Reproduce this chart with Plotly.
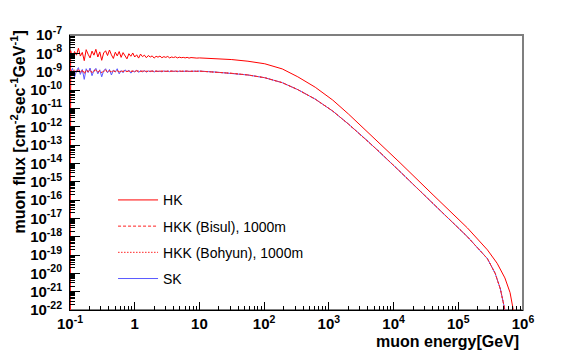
import plotly.graph_objects as go

# log10(energy/GeV) of the noisy low-energy bins
loge_low = [-1.0, -0.99, -0.96, -0.93, -0.90, -0.87, -0.84, -0.81, -0.78, -0.75, -0.72,
            -0.69, -0.66, -0.63, -0.60, -0.57, -0.54, -0.51, -0.48, -0.45, -0.42,
            -0.39, -0.36, -0.33, -0.30, -0.27, -0.24, -0.21, -0.18, -0.15, -0.12,
            -0.09, -0.06, -0.03, 0.00, 0.03, 0.06, 0.09, 0.12, 0.15, 0.18,
            0.21, 0.24, 0.27, 0.30, 0.33, 0.36, 0.39, 0.42, 0.45, 0.48,
            0.51, 0.54, 0.57, 0.60, 0.63, 0.66, 0.69, 0.72, 0.75, 0.78,
            0.81, 0.84, 0.87, 0.90, 0.93, 0.96]

# log10(flux) in the noisy bins (first bin is empty -> -30)
hk_low = [-30, -7.85, -8.30, -7.90, -8.10, -7.72, -8.15, -7.95, -8.40, -7.80, -8.05,
          -8.25, -7.88, -8.10, -7.78, -8.20, -7.92, -8.38, -7.98, -7.86, -8.12,
          -7.82, -8.08, -8.28, -7.94, -8.14, -7.90, -8.22, -7.96, -8.12, -8.30,
          -8.02, -8.16, -7.98, -8.20, -8.08, -8.26, -8.04, -8.18, -8.10, -8.24,
          -8.12, -8.20, -8.14, -8.26, -8.16, -8.21, -8.15, -8.24, -8.18, -8.22,
          -8.17, -8.25, -8.20, -8.23, -8.19, -8.25, -8.21, -8.24, -8.22, -8.25,
          -8.22, -8.26, -8.23, -8.25, -8.24, -8.26]
sk_low = [-8.90, -9.00, -8.82, -9.30, -8.95, -8.78, -9.15, -8.88, -9.42, -8.84, -9.05,
          -8.80, -9.22, -8.94, -8.82, -9.12, -8.90, -9.28, -8.95, -8.84, -9.06,
          -8.88, -9.18, -8.92, -9.02, -8.84, -9.12, -8.94, -9.06, -8.90, -9.00,
          -8.92, -9.08, -8.96, -9.02, -8.92, -9.04, -8.95, -9.01, -8.94, -9.03,
          -8.96, -9.00, -8.95, -9.02, -8.96, -9.00, -8.97, -9.01, -8.96, -8.99,
          -8.97, -9.00, -8.96, -8.99, -8.97, -9.00, -8.97, -8.99, -8.97, -8.98,
          -8.97, -8.99, -8.97, -8.98, -8.97, -8.98]
bisul_low = [-30, -8.95, -9.06, -8.90, -9.02, -8.85, -9.05, -8.94, -9.12, -8.90, -9.00,
             -8.92, -9.06, -8.95, -8.90, -9.03, -8.94, -9.06, -8.95, -8.91, -9.01,
             -8.94, -9.03, -8.96, -8.99, -8.93, -9.02, -8.96, -8.99, -8.94, -9.00,
             -8.96, -8.99, -8.96, -8.98, -8.95, -8.99, -8.97, -8.98, -8.96, -8.99,
             -8.97, -8.98, -8.97, -8.98, -8.97, -8.99, -8.97, -8.98, -8.97, -8.98,
             -8.97, -8.98, -8.97, -8.98, -8.97, -8.98, -8.97, -8.98, -8.97, -8.98,
             -8.97, -8.98, -8.97, -8.98, -8.97, -8.98]
bohyun_low = [-30, -8.90, -9.02, -8.94, -9.06, -8.88, -9.00, -8.92, -9.06, -8.94, -8.98,
              -8.90, -9.03, -8.96, -8.92, -9.01, -8.94, -9.04, -8.96, -8.93, -9.01,
              -8.96, -9.00, -8.95, -9.00, -8.95, -9.00, -8.97, -8.98, -8.96, -8.99,
              -8.97, -8.98, -8.97, -8.99, -8.96, -8.98, -8.97, -8.99, -8.97, -8.98,
              -8.96, -8.99, -8.97, -8.98, -8.97, -8.98, -8.97, -8.99, -8.97, -8.98,
              -8.97, -8.98, -8.97, -8.98, -8.97, -8.98, -8.97, -8.98, -8.97, -8.98,
              -8.97, -8.98, -8.97, -8.98, -8.97, -8.98]

# smooth high-energy part
loge_hk_tail = [1.0, 1.24, 1.5, 1.75, 2.01, 2.28, 2.52, 2.79, 3.06, 3.30, 3.59, 3.79,
                4.10, 4.61, 5.14, 5.45, 5.60, 5.72, 5.80, 5.85, 5.88]
hk_tail = [-8.25, -8.28, -8.34, -8.43, -8.57, -8.85, -9.28, -9.85, -10.55, -11.30,
           -12.25, -12.92, -13.97, -15.72, -17.52, -18.72, -19.45, -20.25, -21.05,
           -22.0, -23.0]
loge_low_tail = [1.0, 1.24, 1.5, 1.75, 2.01, 2.28, 2.52, 2.79, 3.06, 3.30, 3.59, 3.79,
                 4.10, 4.61, 5.14, 5.45, 5.57, 5.65, 5.72, 5.76]
lower_tail = [-8.97, -9.02, -9.09, -9.18, -9.33, -9.60, -9.98, -10.50, -11.15, -11.85,
              -12.75, -13.40, -14.45, -16.20, -18.00, -19.20, -20.0, -20.85, -22.0, -23.0]

ytick_exp = list(range(-22, -6))
xtick_exp = list(range(-1, 7))
xtick_text = ["10<sup>-1</sup>", "1", "10", "10<sup>2</sup>", "10<sup>3</sup>",
              "10<sup>4</sup>", "10<sup>5</sup>", "10<sup>6</sup>"]

FONT = "Liberation Sans, Arial, Helvetica, sans-serif"


def to_lin(le, lf):
    return [10 ** v for v in le], [10 ** v for v in lf]


fig = go.Figure()

x, y = to_lin(loge_low + loge_low_tail, sk_low + lower_tail)
fig.add_trace(go.Scatter(x=x, y=y, mode="lines", name="SK", legendrank=4,
                         legendgroup="d", line=dict(color="#5a5aff", width=1)))
x, y = to_lin(loge_low + loge_hk_tail, hk_low + hk_tail)
fig.add_trace(go.Scatter(x=x, y=y, mode="lines", name="HK", legendrank=1,
                         legendgroup="a", line=dict(color="#ff0000", width=1)))
x, y = to_lin(loge_low + loge_low_tail, bisul_low + lower_tail)
fig.add_trace(go.Scatter(x=x, y=y, mode="lines", name="HKK (Bisul), 1000m", legendrank=2,
                         legendgroup="b", line=dict(color="#ff2020", width=1, dash="3px,2px")))
x, y = to_lin(loge_low + loge_low_tail, bohyun_low + lower_tail)
fig.add_trace(go.Scatter(x=x, y=y, mode="lines", name="HKK (Bohyun), 1000m", legendrank=3,
                         legendgroup="c", line=dict(color="#ff2020", width=1, dash="1.5px,1.5px")))

# the page body adds an 8px offset, so left/top margins are 8px smaller
fig.update_layout(
    width=581, height=353,
    margin=dict(l=62, r=66, t=27, b=51, autoexpand=False),
    paper_bgcolor="white", plot_bgcolor="white",
    font=dict(family=FONT, color="black"),
    showlegend=True,
    legend=dict(x=0.095, y=0.457, xanchor="left", yanchor="top",
                bgcolor="rgba(0,0,0,0)", font=dict(size=14, family=FONT),
                tracegroupgap=5, itemwidth=40),
)

fig.update_xaxes(
    type="log", range=[-1, 6], automargin=False,
    showgrid=False, zeroline=False,
    showline=True, linecolor="black", linewidth=1,
    ticks="inside", ticklen=8, tickcolor="black",
    tickvals=[10 ** v for v in xtick_exp], ticktext=xtick_text,
    tickfont=dict(size=15, family=FONT, weight="bold"),
    minor=dict(ticks="inside", ticklen=4, tickcolor="black", dtick="D1", showgrid=False),
)
fig.update_yaxes(
    type="log", range=[-22, -7], automargin=False,
    showgrid=False, zeroline=False,
    showline=True, linecolor="black", linewidth=1,
    ticks="inside", ticklen=10, tickcolor="black", ticklabelstandoff=4,
    tickvals=[10 ** v for v in ytick_exp],
    ticktext=["10<sup>%d</sup>" % v for v in ytick_exp],
    tickfont=dict(size=15, family=FONT, weight="bold"),
    minor=dict(ticks="inside", ticklen=5, tickcolor="black", dtick="D1", showgrid=False),
)

# frame (top/right drawn grey like the ROOT pad)
fig.add_shape(type="rect", xref="paper", yref="paper", x0=0, x1=1, y0=0, y1=1,
              line=dict(color="#7f7f7f", width=2), layer="below")

fig.add_annotation(text="muon flux [cm<sup>-2</sup>sec<sup>-1</sup>GeV<sup>-1</sup>]",
                   xref="paper", yref="paper", x=-0.115, y=1.025,
                   xanchor="center", yanchor="top", textangle=-90, showarrow=False,
                   font=dict(size=16, family=FONT, weight="bold"))
fig.add_annotation(text="muon energy[GeV]", xref="paper", yref="paper",
                   x=0.995, y=-0.116, xanchor="right", yanchor="middle", showarrow=False,
                   font=dict(size=16, family=FONT, weight="bold"))

fig.write_html("out.html")
